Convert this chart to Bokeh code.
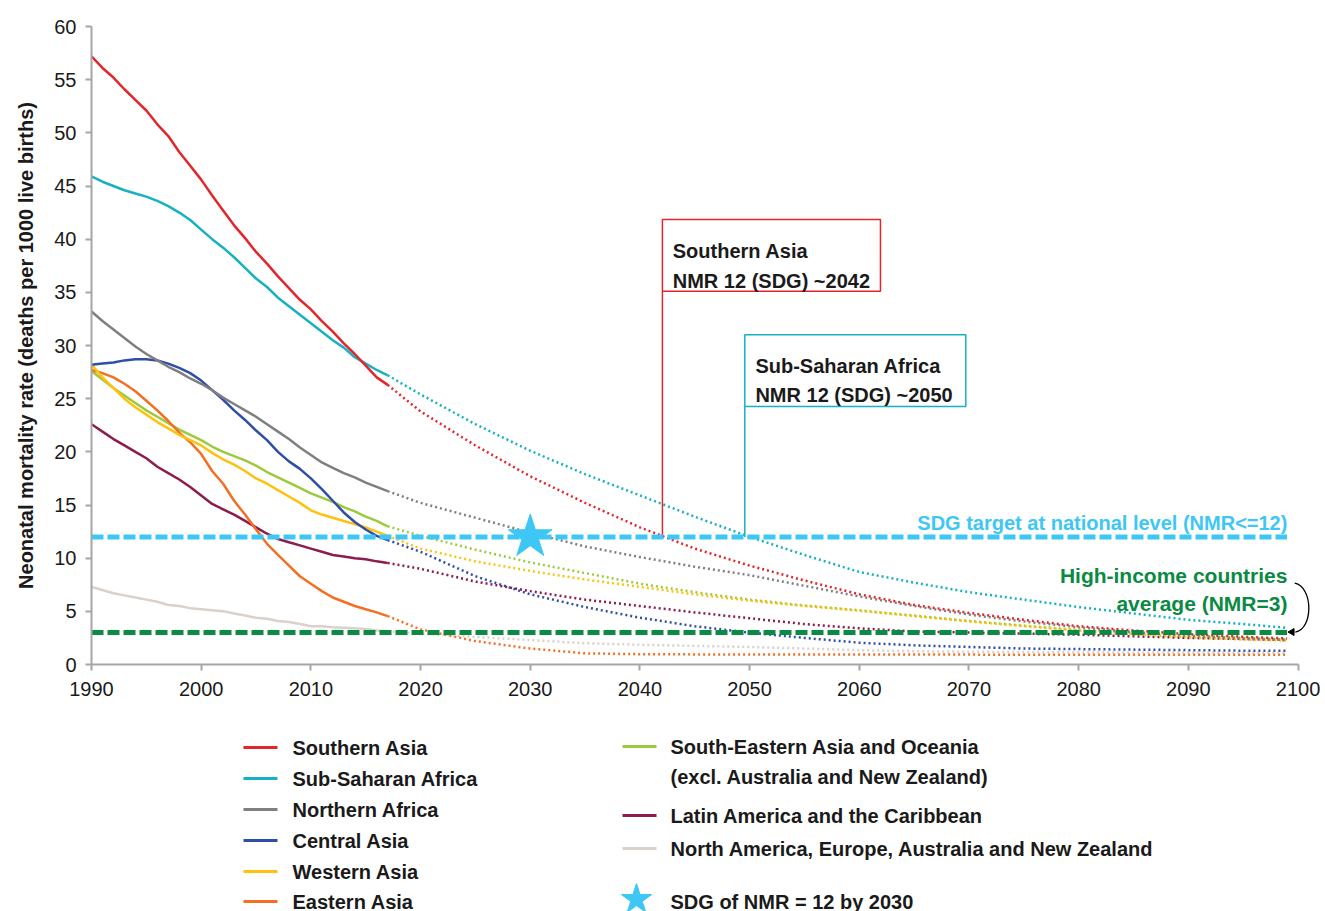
import math
from bokeh.plotting import figure
from bokeh.models import Range1d, FixedTicker
from bokeh.layouts import column
from bokeh.embed import file_html
from bokeh.resources import INLINE
from bokeh.core.properties import value

FONT = "'Liberation Sans', Arial, sans-serif"

# ---------------- data ----------------
obs_years = list(range(1990, 2018))
proj_years = [2017, 2020, 2025, 2030, 2035, 2040, 2045, 2050, 2055, 2060,
              2065, 2070, 2075, 2080, 2085, 2090, 2095, 2099]

regions = [
    "Southern Asia",
    "Sub-Saharan Africa",
    "Northern Africa",
    "Central Asia",
    "Western Asia",
    "Eastern Asia",
    "South-Eastern Asia and Oceania",
    "Latin America and the Caribbean",
    "North America, Europe, Australia and New Zealand",
]
colors = ["#E3262C", "#17B1C4", "#7F7F7F", "#2F4FA6", "#FFC10E",
          "#F37022", "#9DCA3C", "#8C1C4C", "#D9D1CB"]

southern_asia_obs = [57.2, 56.1, 55.2, 54.1, 53.1, 52.1, 50.8, 49.7, 48.2, 46.9,
                     45.6, 44.1, 42.7, 41.3, 40.1, 38.8, 37.7, 36.5, 35.4, 34.3,
                     33.4, 32.3, 31.3, 30.2, 29.2, 28.1, 27.0, 26.3]
ssa_obs = [45.9, 45.4, 45.0, 44.6, 44.3, 44.0, 43.6, 43.1, 42.5, 41.8,
           40.9, 40.0, 39.2, 38.3, 37.3, 36.3, 35.5, 34.5, 33.7, 32.9,
           32.1, 31.3, 30.5, 29.8, 28.9, 28.3, 27.7, 27.2]
northern_africa_obs = [33.2, 32.3, 31.5, 30.7, 29.9, 29.2, 28.6, 28.0, 27.5, 26.9,
                       26.4, 25.8, 25.1, 24.5, 23.9, 23.3, 22.6, 21.9, 21.2, 20.4,
                       19.7, 19.0, 18.5, 18.0, 17.6, 17.1, 16.7, 16.3]
central_asia_obs = [28.2, 28.3, 28.4, 28.6, 28.7, 28.7, 28.6, 28.3, 27.9, 27.4,
                    26.7, 25.8, 24.9, 23.9, 23.0, 22.0, 21.1, 20.0, 19.1, 18.4,
                    17.5, 16.5, 15.4, 14.3, 13.4, 12.7, 12.1, 11.7]
western_asia_obs = [28.2, 27.0, 26.0, 25.0, 24.2, 23.5, 22.8, 22.2, 21.6, 21.1,
                    20.6, 19.9, 19.3, 18.8, 18.2, 17.5, 17.0, 16.4, 15.8, 15.2,
                    14.5, 14.1, 13.8, 13.5, 13.2, 12.9, 12.5, 12.1]
eastern_asia_obs = [27.7, 27.4, 27.0, 26.4, 25.7, 24.8, 23.9, 22.9, 21.8, 20.9,
                    19.8, 18.2, 17.0, 15.4, 14.1, 12.7, 11.35, 10.3, 9.3, 8.3,
                    7.6, 6.9, 6.3, 5.9, 5.5, 5.2, 4.9, 4.55]
se_asia_obs = [27.6, 26.8, 26.0, 25.3, 24.6, 23.9, 23.3, 22.7, 22.1, 21.6,
               21.1, 20.5, 20.0, 19.6, 19.2, 18.7, 18.1, 17.6, 17.1, 16.6,
               16.1, 15.7, 15.3, 14.8, 14.4, 13.9, 13.5, 13.0]
latam_obs = [22.6, 21.9, 21.2, 20.6, 20.0, 19.4, 18.6, 18.0, 17.4, 16.7,
             15.9, 15.1, 14.6, 14.1, 13.5, 12.9, 12.3, 11.8, 11.5, 11.2,
             10.9, 10.6, 10.3, 10.15, 10.0, 9.9, 9.7, 9.55]
na_eu_obs = [7.3, 7.0, 6.7, 6.5, 6.3, 6.1, 5.9, 5.6, 5.5, 5.3,
             5.2, 5.1, 5.0, 4.8, 4.6, 4.4, 4.3, 4.1, 4.0, 3.8,
             3.6, 3.6, 3.5, 3.45, 3.4, 3.35, 3.2, 3.1]

southern_asia_proj = [26.3, 23.8, 20.6, 17.7, 15.2, 12.9, 10.9, 9.3, 7.9, 6.6,
                      5.6, 4.85, 4.2, 3.6, 3.2, 2.85, 2.6, 2.45]
ssa_proj = [27.2, 25.4, 22.6, 20.1, 17.9, 15.9, 13.9, 12.0, 10.3, 8.7,
            7.7, 6.8, 6.1, 5.4, 4.8, 4.2, 3.8, 3.45]
northern_africa_proj = [16.3, 15.2, 13.8, 12.4, 11.1, 10.1, 9.2, 8.4, 7.4, 6.4,
                        5.5, 4.7, 4.05, 3.5, 3.05, 2.7, 2.45, 2.3]
central_asia_proj = [11.7, 10.6, 8.3, 6.6, 5.4, 4.4, 3.6, 3.0, 2.5, 2.05,
                     1.8, 1.65, 1.5, 1.45, 1.4, 1.35, 1.3, 1.3]
western_asia_proj = [12.1, 10.9, 9.7, 8.8, 8.0, 7.3, 6.6, 6.0, 5.5, 5.05,
                     4.55, 4.05, 3.6, 3.2, 2.85, 2.55, 2.35, 2.25]
eastern_asia_proj = [4.55, 3.3, 2.2, 1.5, 1.05, 0.97, 0.95, 0.95, 0.94, 0.94,
                     0.93, 0.93, 0.92, 0.92, 0.92, 0.92, 0.92, 0.92]
se_asia_proj = [13.0, 12.1, 10.8, 9.6, 8.6, 7.6, 6.8, 6.1, 5.55, 5.1,
                4.6, 4.1, 3.65, 3.25, 2.95, 2.7, 2.5, 2.35]
latam_proj = [9.55, 9.0, 7.8, 6.9, 6.1, 5.5, 4.9, 4.35, 3.8, 3.4,
              3.1, 3.0, 2.9, 2.8, 2.65, 2.5, 2.4, 2.3]
na_eu_proj = [3.1, 2.9, 2.6, 2.3, 2.0, 1.85, 1.75, 1.65, 1.5, 1.35,
              1.25, 1.2, 1.17, 1.15, 1.13, 1.12, 1.1, 1.1]

observed = [southern_asia_obs, ssa_obs, northern_africa_obs, central_asia_obs,
            western_asia_obs, eastern_asia_obs, se_asia_obs, latam_obs, na_eu_obs]
projected = [southern_asia_proj, ssa_proj, northern_africa_proj, central_asia_proj,
             western_asia_proj, eastern_asia_proj, se_asia_proj, latam_proj, na_eu_proj]

x_ticks = list(range(1990, 2101, 10))
y_ticks = list(range(0, 61, 5))

sdg_target = 12
sdg_year = 2030
high_income_avg = 3
ref_line_start, ref_line_end = 1990, 2099
sa_cross_year = 2042.05
ssa_cross_year = 2049.56

SDG_BLUE = "#3EC7F4"
HI_GREEN = "#0A8A43"
AXIS_GRAY = "#A6A6A6"
TXT = "#1A1A1A"

# ---------------- main figure ----------------
W = 1325
BL, BR = 91, 11
p = figure(width=W, height=708, x_range=Range1d(1990, 2101.5), y_range=Range1d(0, 60),
           output_backend="svg", toolbar_location=None,
           min_border_left=BL, min_border_right=BR, min_border_top=26, min_border_bottom=44)
p.outline_line_color = None
p.xgrid.visible = False
p.ygrid.visible = False
p.background_fill_color = "white"
p.border_fill_color = "white"

for ax in (p.xaxis, p.yaxis):
    ax.axis_line_color = AXIS_GRAY
    ax.axis_line_width = 2
    ax.major_tick_line_color = AXIS_GRAY
    ax.major_tick_line_width = 2
    ax.major_tick_out = 6
    ax.major_tick_in = 0
    ax.minor_tick_line_color = None
    ax.major_label_text_font = FONT
    ax.major_label_text_font_size = "20px"
    ax.major_label_text_color = TXT

p.xaxis.ticker = FixedTicker(ticks=x_ticks)
p.xaxis.bounds = (1990, 2100)
p.xaxis.major_label_standoff = 11
p.yaxis.ticker = FixedTicker(ticks=y_ticks)
p.yaxis.major_label_standoff = 9
p.yaxis.axis_label = "Neonatal mortality rate (deaths per 1000 live births)"
p.yaxis.axis_label_text_font = FONT
p.yaxis.axis_label_text_font_style = "bold"
p.yaxis.axis_label_text_font_size = "20px"
p.yaxis.axis_label_text_color = TXT
p.yaxis.axis_label_standoff = 14

for i in reversed(range(len(regions))):
    p.line(obs_years, observed[i], line_color=colors[i], line_width=2.5)
    p.line(proj_years, projected[i], line_color=colors[i], line_width=2.5,
           line_dash="2 3")

# annotation boxes with leader lines
boxes = [
    (sa_cross_year, 2061.93, 41.85, 35.11, colors[0],
     ["Southern Asia", "NMR 12 (SDG) ~2042"], 2042.99, [38.87, 36.11]),
    (ssa_cross_year, 2069.71, 31.01, 24.26, colors[1],
     ["Sub-Saharan Africa", "NMR 12 (SDG) ~2050"], 2050.53, [28.05, 25.30]),
]
for left, right, top, bottom, col, lines, tx, tys in boxes:
    p.segment(x0=[left], y0=[bottom], x1=[left], y1=[sdg_target],
              line_color=col, line_width=1.5)
    p.quad(left=[left], right=[right], top=[top], bottom=[bottom],
           fill_color="white", line_color=col, line_width=1.5)
    p.text(x=[tx, tx], y=tys, text=lines, text_font=value(FONT),
           text_font_style="bold", text_font_size="20px", text_color=TXT,
           text_baseline="alphabetic", text_align="left")

# reference lines
p.line([ref_line_start, ref_line_end], [sdg_target, sdg_target],
       line_color=SDG_BLUE, line_width=5, line_dash="12 4")
p.line([ref_line_start, ref_line_end], [high_income_avg, high_income_avg],
       line_color=HI_GREEN, line_width=5, line_dash="12 4")

p.scatter(x=[sdg_year], y=[sdg_target], marker="star", size=46,
          fill_color=SDG_BLUE, line_color=SDG_BLUE)

p.text(x=[2099.03], y=[13.29], text=["SDG target at national level (NMR<=12)"],
       text_font=value(FONT), text_font_style="bold", text_font_size="20px",
       text_color=SDG_BLUE, text_align="right", text_baseline="alphabetic")
p.text(x=[2099.03, 2099.03], y=[8.37, 5.71],
       text=["High-income countries", "average (NMR=3)"],
       text_font=value(FONT), text_font_style="bold", text_font_size="21px",
       text_color=HI_GREEN, text_align="right", text_baseline="alphabetic")

# curved arrow
p.bezier(x0=[2099.7], y0=[7.65], x1=[2099.75], y1=[3.05],
         cx0=[2101.4], cy0=[7.3], cx1=[2101.4], cy1=[3.3],
         line_color="black", line_width=1.3)
p.scatter(x=[2099.45], y=[3.05], marker="triangle", size=7, angle=math.pi / 2,
          fill_color="black", line_color="black")

# ---------------- legend figure (1 unit = 1 page pixel) ----------------
LH = 203
TOP = 708
lg = figure(width=W, height=LH, x_range=Range1d(BL, W - BR), y_range=Range1d(LH, 0),
            output_backend="svg", toolbar_location=None,
            min_border_left=BL, min_border_right=BR, min_border_top=0, min_border_bottom=0)
lg.axis.visible = False
lg.xgrid.visible = False
lg.ygrid.visible = False
lg.outline_line_color = None

left_rows = [y - TOP for y in (747, 778, 809, 840, 871, 901)]
for i, ry in enumerate(left_rows):
    lg.segment(x0=[243], y0=[ry], x1=[277], y1=[ry], line_color=colors[i], line_width=3)
lg.text(x=[292] * 6, y=left_rows, text=regions[:6], text_font=value(FONT),
        text_font_style="bold", text_font_size="20px", text_color=TXT,
        text_baseline="middle")

right_rows = [y - TOP for y in (746, 776, 815, 848, 901)]
for i, ry in zip([6, 7, 8], [right_rows[0], right_rows[2], right_rows[3]]):
    lg.segment(x0=[622], y0=[ry], x1=[656], y1=[ry], line_color=colors[i], line_width=3)
lg.text(x=[670] * 5, y=right_rows,
        text=["South-Eastern Asia and Oceania", "(excl. Australia and New Zealand)",
              regions[7], regions[8], "SDG of NMR = 12 by 2030"],
        text_font=value(FONT), text_font_style="bold", text_font_size="20px",
        text_color=TXT, text_baseline="middle")
lg.scatter(x=[636], y=[899 - TOP], marker="star", size=32, fill_color=SDG_BLUE,
           line_color=SDG_BLUE)

layout = column(p, lg)
open("out.html", "w").write(file_html(layout, INLINE))
